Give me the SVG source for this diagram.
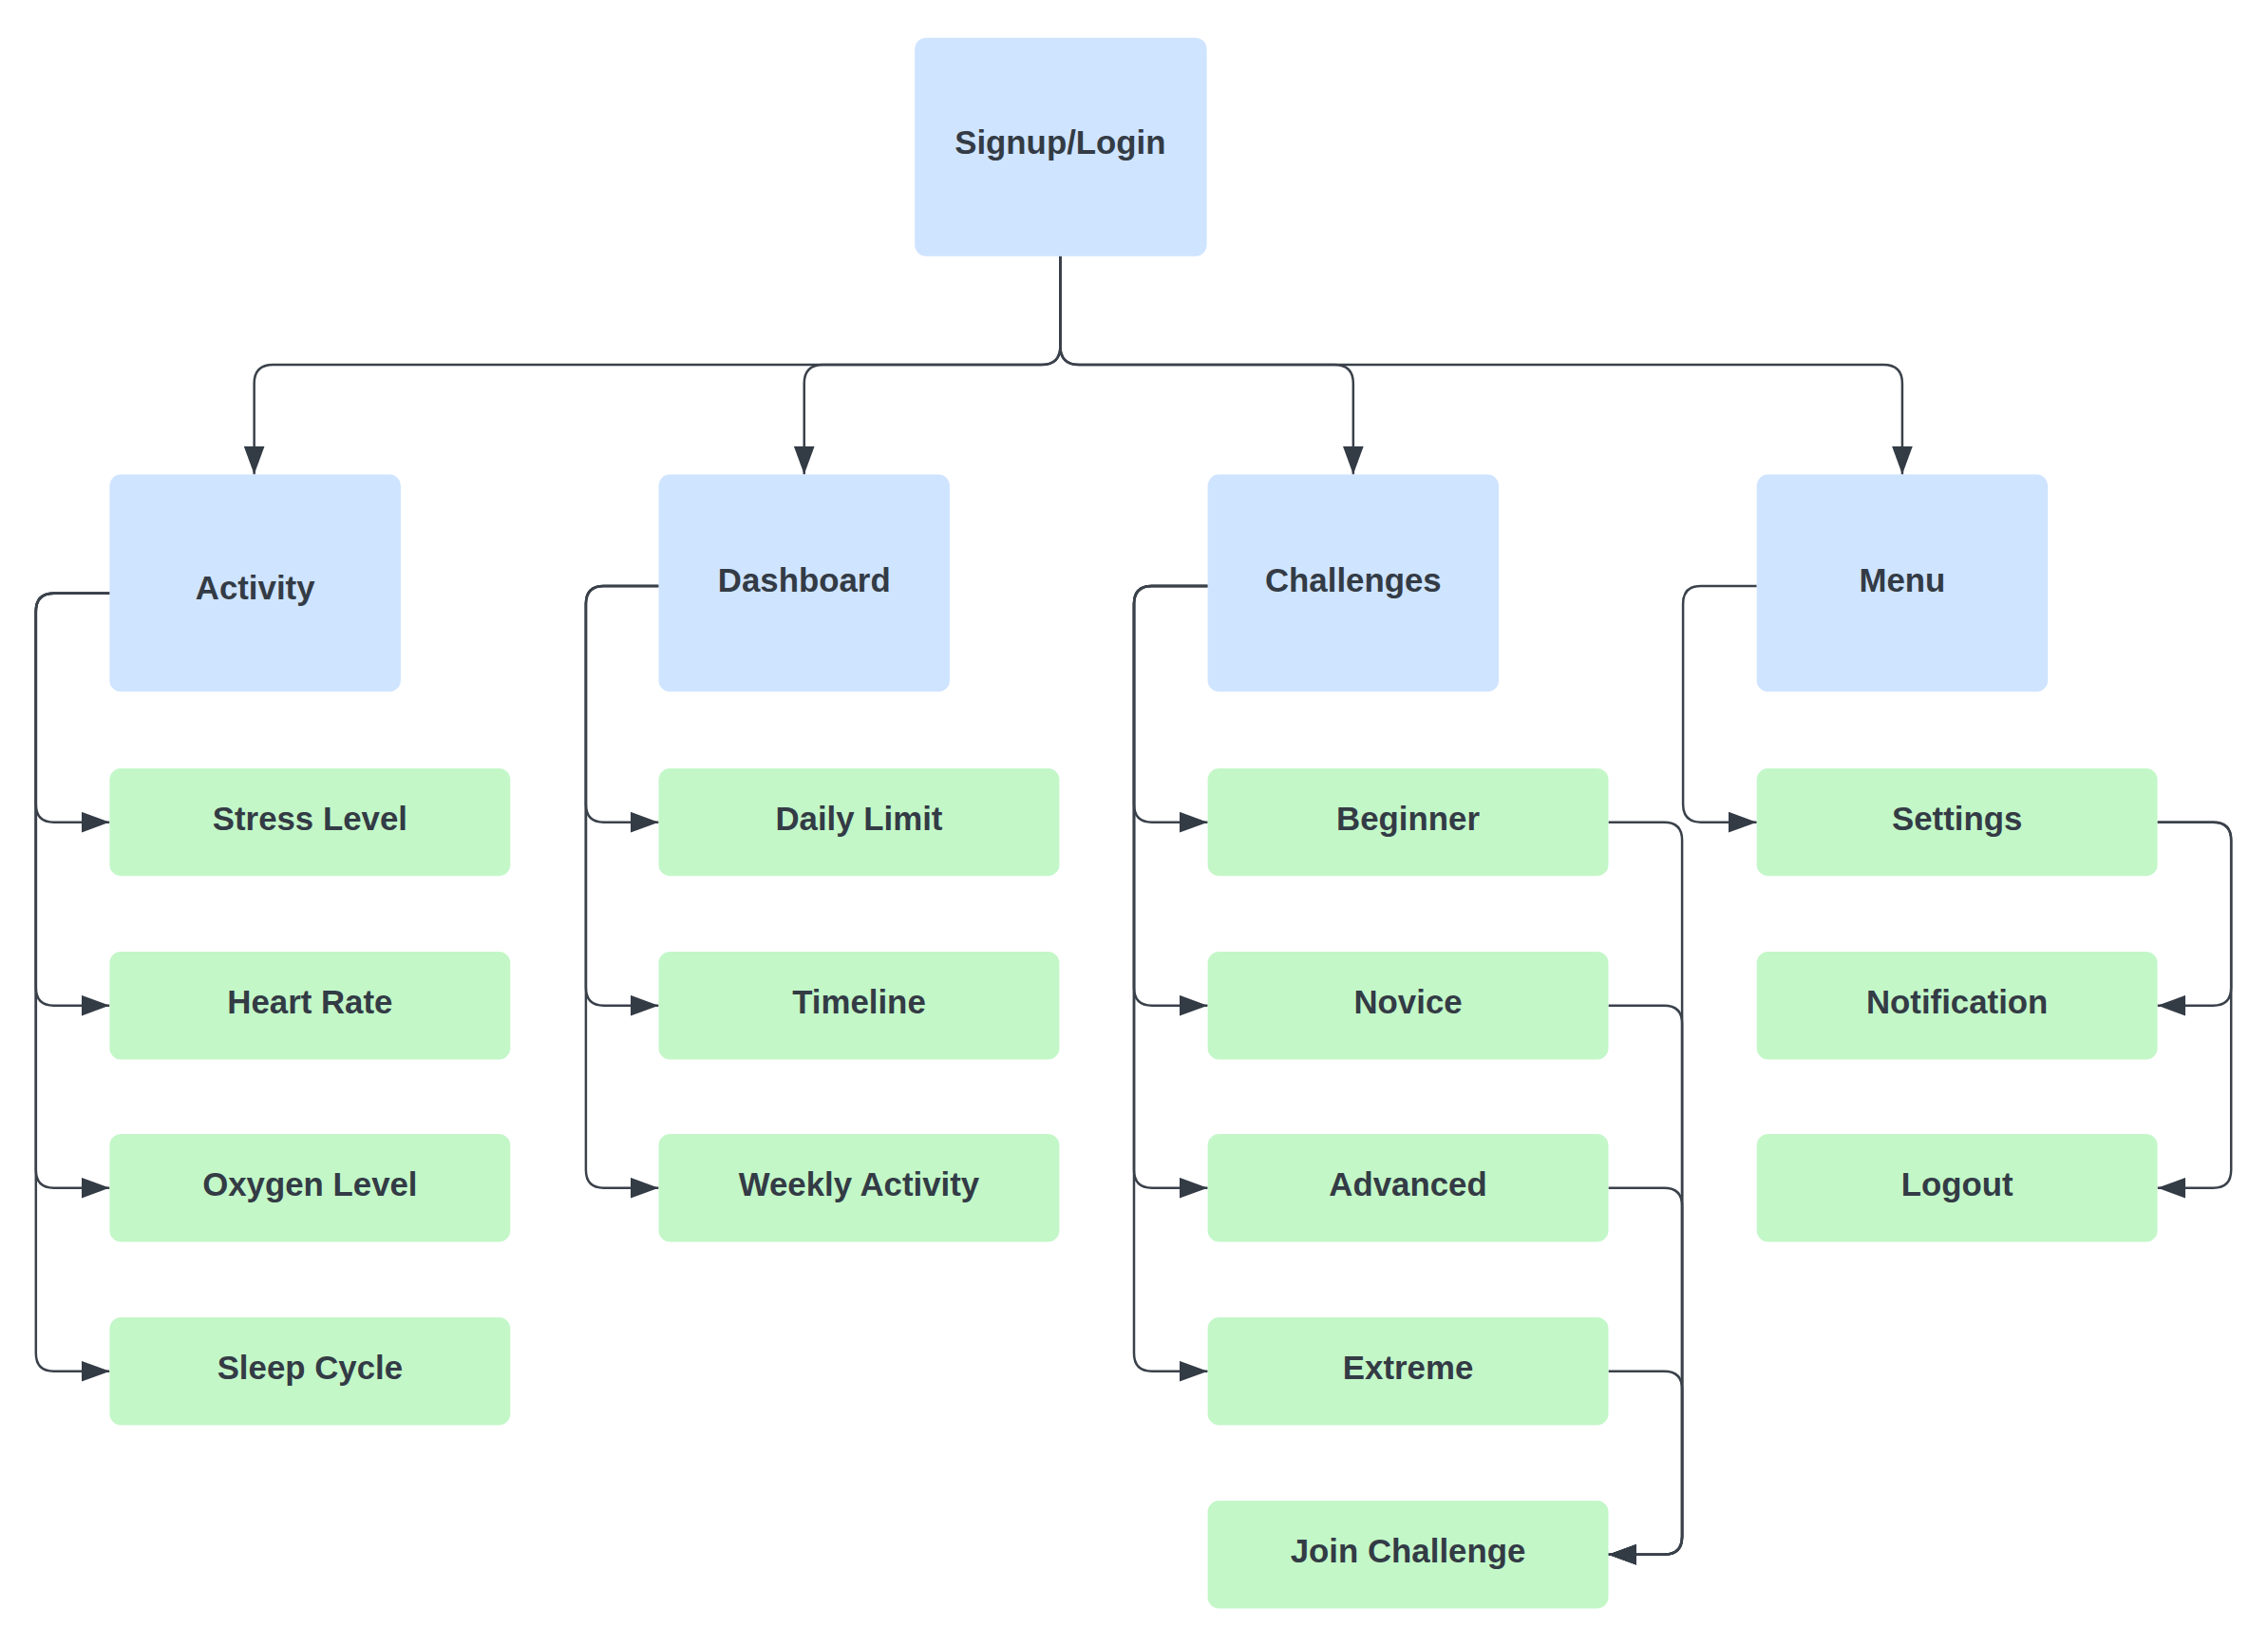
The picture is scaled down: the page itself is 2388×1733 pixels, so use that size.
<svg xmlns="http://www.w3.org/2000/svg" width="2388" height="1733" viewBox="0 0 2388 1733">
<defs>
<style>
.blue{fill:#cfe4ff}
.green{fill:#c3f7c8}
.lbl{font-family:"Liberation Sans",Arial,sans-serif;font-weight:bold;font-size:35px;fill:#333b45;text-anchor:middle;dominant-baseline:central}
.edge{fill:none;stroke:#3a414a;stroke-width:2.5;marker-end:url(#arr)}
</style>
<marker id="arr" viewBox="0 0 30 22" refX="30" refY="11" markerWidth="30" markerHeight="22" markerUnits="userSpaceOnUse" orient="auto">
<path d="M0,0 L30,11 L0,22 Z" fill="#333b45"/>
</marker>
</defs>
<rect width="2388" height="1733" fill="#ffffff"/>
<g transform="scale(0.995)">
<g id="connectors">
<path class="edge" d="M1122,271 V366 Q1122,386 1102,386 H289 Q269,386 269,406 V502"/>
<path class="edge" d="M1122,271 V366 Q1122,386 1102,386 H871 Q851,386 851,406 V502"/>
<path class="edge" d="M1122,271 V366 Q1122,386 1142,386 H1412 Q1432,386 1432,406 V502"/>
<path class="edge" d="M1122,271 V366 Q1122,386 1142,386 H1993 Q2013,386 2013,406 V502"/>

<path class="edge" d="M116,628 H57 Q38,628 38,647 V851 Q38,870 57,870 H116"/>
<path class="edge" d="M116,628 H57 Q38,628 38,647 V1045 Q38,1064 57,1064 H116"/>
<path class="edge" d="M116,628 H57 Q38,628 38,647 V1238 Q38,1257 57,1257 H116"/>
<path class="edge" d="M116,628 H57 Q38,628 38,647 V1432 Q38,1451 57,1451 H116"/>

<path class="edge" d="M697,620 H639 Q620,620 620,639 V851 Q620,870 639,870 H697"/>
<path class="edge" d="M697,620 H639 Q620,620 620,639 V1045 Q620,1064 639,1064 H697"/>
<path class="edge" d="M697,620 H639 Q620,620 620,639 V1238 Q620,1257 639,1257 H697"/>

<path class="edge" d="M1278,620 H1219 Q1200,620 1200,639 V851 Q1200,870 1219,870 H1278"/>
<path class="edge" d="M1278,620 H1219 Q1200,620 1200,639 V1045 Q1200,1064 1219,1064 H1278"/>
<path class="edge" d="M1278,620 H1219 Q1200,620 1200,639 V1238 Q1200,1257 1219,1257 H1278"/>
<path class="edge" d="M1278,620 H1219 Q1200,620 1200,639 V1432 Q1200,1451 1219,1451 H1278"/>

<path class="edge" d="M1702,870 H1761 Q1780,870 1780,889 V1626 Q1780,1645 1761,1645 H1702"/>
<path class="edge" d="M1702,1064 H1761 Q1780,1064 1780,1083 V1626 Q1780,1645 1761,1645 H1702"/>
<path class="edge" d="M1702,1257 H1761 Q1780,1257 1780,1276 V1626 Q1780,1645 1761,1645 H1702"/>
<path class="edge" d="M1702,1451 H1761 Q1780,1451 1780,1470 V1626 Q1780,1645 1761,1645 H1702"/>

<path class="edge" d="M1859,620 H1800 Q1781,620 1781,639 V851 Q1781,870 1800,870 H1859"/>

<path class="edge" d="M2283,870 H2342 Q2361,870 2361,889 V1045 Q2361,1064 2342,1064 H2283"/>
<path class="edge" d="M2283,870 H2342 Q2361,870 2361,889 V1238 Q2361,1257 2342,1257 H2283"/>
</g>

<g id="signup"><rect class="blue" x="968" y="40" width="309" height="231" rx="12"/><text class="lbl" x="1122" y="150">Signup/Login</text></g>

<g id="activity"><rect class="blue" x="116" y="502" width="308" height="230" rx="12"/><text class="lbl" x="270" y="622">Activity</text></g>
<g id="dashboard"><rect class="blue" x="697" y="502" width="308" height="230" rx="12"/><text class="lbl" x="851" y="614">Dashboard</text></g>
<g id="challenges"><rect class="blue" x="1278" y="502" width="308" height="230" rx="12"/><text class="lbl" x="1432" y="614">Challenges</text></g>
<g id="menu"><rect class="blue" x="1859" y="502" width="308" height="230" rx="12"/><text class="lbl" x="2013" y="614">Menu</text></g>

<g id="stress"><rect class="green" x="116" y="813" width="424" height="114" rx="12"/><text class="lbl" x="328" y="866">Stress Level</text></g>
<g id="heart"><rect class="green" x="116" y="1007" width="424" height="114" rx="12"/><text class="lbl" x="328" y="1060">Heart Rate</text></g>
<g id="oxygen"><rect class="green" x="116" y="1200" width="424" height="114" rx="12"/><text class="lbl" x="328" y="1253">Oxygen Level</text></g>
<g id="sleep"><rect class="green" x="116" y="1394" width="424" height="114" rx="12"/><text class="lbl" x="328" y="1447">Sleep Cycle</text></g>

<g id="daily"><rect class="green" x="697" y="813" width="424" height="114" rx="12"/><text class="lbl" x="909" y="866">Daily Limit</text></g>
<g id="timeline"><rect class="green" x="697" y="1007" width="424" height="114" rx="12"/><text class="lbl" x="909" y="1060">Timeline</text></g>
<g id="weekly"><rect class="green" x="697" y="1200" width="424" height="114" rx="12"/><text class="lbl" x="909" y="1253">Weekly Activity</text></g>

<g id="beginner"><rect class="green" x="1278" y="813" width="424" height="114" rx="12"/><text class="lbl" x="1490" y="866">Beginner</text></g>
<g id="novice"><rect class="green" x="1278" y="1007" width="424" height="114" rx="12"/><text class="lbl" x="1490" y="1060">Novice</text></g>
<g id="advanced"><rect class="green" x="1278" y="1200" width="424" height="114" rx="12"/><text class="lbl" x="1490" y="1253">Advanced</text></g>
<g id="extreme"><rect class="green" x="1278" y="1394" width="424" height="114" rx="12"/><text class="lbl" x="1490" y="1447">Extreme</text></g>
<g id="join"><rect class="green" x="1278" y="1588" width="424" height="114" rx="12"/><text class="lbl" x="1490" y="1641">Join Challenge</text></g>

<g id="settings"><rect class="green" x="1859" y="813" width="424" height="114" rx="12"/><text class="lbl" x="2071" y="866">Settings</text></g>
<g id="notification"><rect class="green" x="1859" y="1007" width="424" height="114" rx="12"/><text class="lbl" x="2071" y="1060">Notification</text></g>
<g id="logout"><rect class="green" x="1859" y="1200" width="424" height="114" rx="12"/><text class="lbl" x="2071" y="1253">Logout</text></g>
</g>
</svg>
